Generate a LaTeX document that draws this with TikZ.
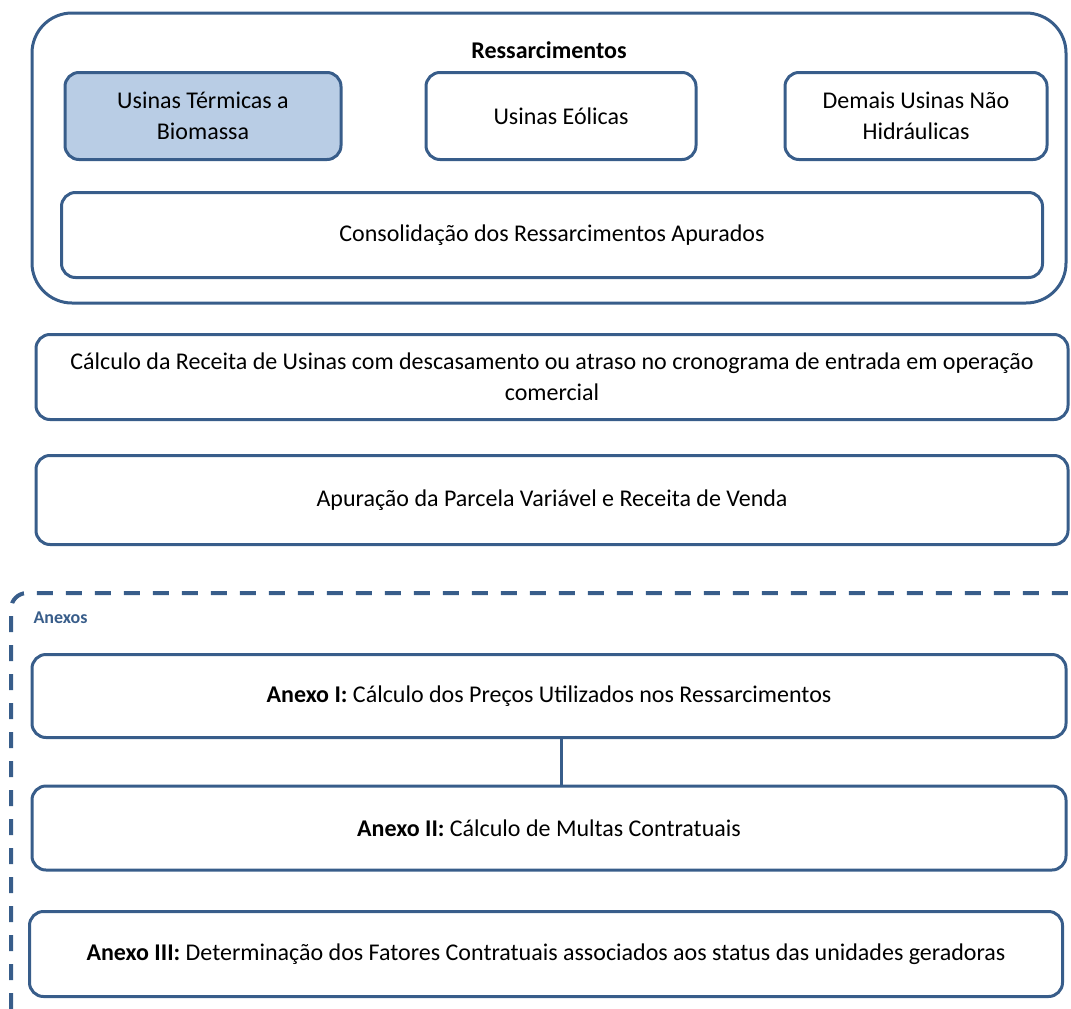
\documentclass[tikz,border=0pt]{standalone}
\usepackage{fontspec}
\setmainfont{Carlito}
\usepackage{tikz}
\usetikzlibrary{positioning,calc}

\definecolor{boxblue}{RGB}{56,93,138}
\definecolor{boxfill}{RGB}{185,205,229}

\tikzset{
  etapa/.style={draw=boxblue, line width=3pt, rounded corners=14pt, align=center,
    inner sep=0pt, font=\fontsize{24}{31}\selectfont},
}

\begin{document}
\begin{tikzpicture}[x=1pt,y=-1pt]
      \useasboundingbox (0,0) rectangle (1071,1009);

      \node[draw=boxblue, line width=3pt, rounded corners=40pt, minimum width=1034pt,
        minimum height=290pt](ress) at (549,158){};
      \node[font=\fontsize{24}{28}\selectfont\bfseries](titulo) at (549,50){Ressarcimentos};

      \node[etapa, fill=boxfill, minimum width=276pt, minimum height=87pt](termicas) at (203,116)
        {Usinas Térmicas a\\Biomassa};
      \node[etapa, minimum width=270pt, minimum height=87pt](eolicas) at (561,116){Usinas Eólicas};
      \node[etapa, minimum width=262pt, minimum height=87pt](demais) at (916,116)
        {Demais Usinas Não\\Hidráulicas};
      \node[etapa, minimum width=981pt, minimum height=85pt](consol) at (552,235)
        {Consolidação dos Ressarcimentos Apurados};

      \node[etapa, minimum width=1032pt, minimum height=85pt](receita) at (552,377)
        {Cálculo da Receita de Usinas com descasamento ou atraso no cronograma de entrada em operação\\comercial};
      \node[etapa, minimum width=1032pt, minimum height=89pt](apuracao) at (552,500)
        {Apuração da Parcela Variável e Receita de Venda};

      \coordinate(anexosbaixo) at (11,1009);
      \coordinate(anexoscanto) at (11,593);
      \coordinate(anexosfim) at (1071,593);
      \draw[boxblue, line width=4pt, dash pattern=on 16pt off 13pt, rounded corners=16pt]
        (anexosbaixo) -- (anexoscanto) -- (anexosfim);
      \node[anchor=west, text=boxblue, font=\fontsize{18}{21}\selectfont\bfseries](anexos) at (30,618){Anexos};

      \node[etapa, minimum width=1034pt, minimum height=83pt](anexo1) at (549,696)
        {\textbf{Anexo I:} Cálculo dos Preços Utilizados nos Ressarcimentos};
      \node[etapa, minimum width=1034pt, minimum height=84pt](anexo2) at (549,828)
        {\textbf{Anexo II:} Cálculo de Multas Contratuais};
      \node[etapa, minimum width=1033pt, minimum height=85pt](anexo3) at (546,954)
        {\textbf{Anexo III:} Determinação dos Fatores Contratuais associados aos status das unidades geradoras};

      \draw[boxblue, line width=3pt] (anexo1.south -| 561,0) -- (anexo2.north -| 561,0);

    \end{tikzpicture}
\end{document}
